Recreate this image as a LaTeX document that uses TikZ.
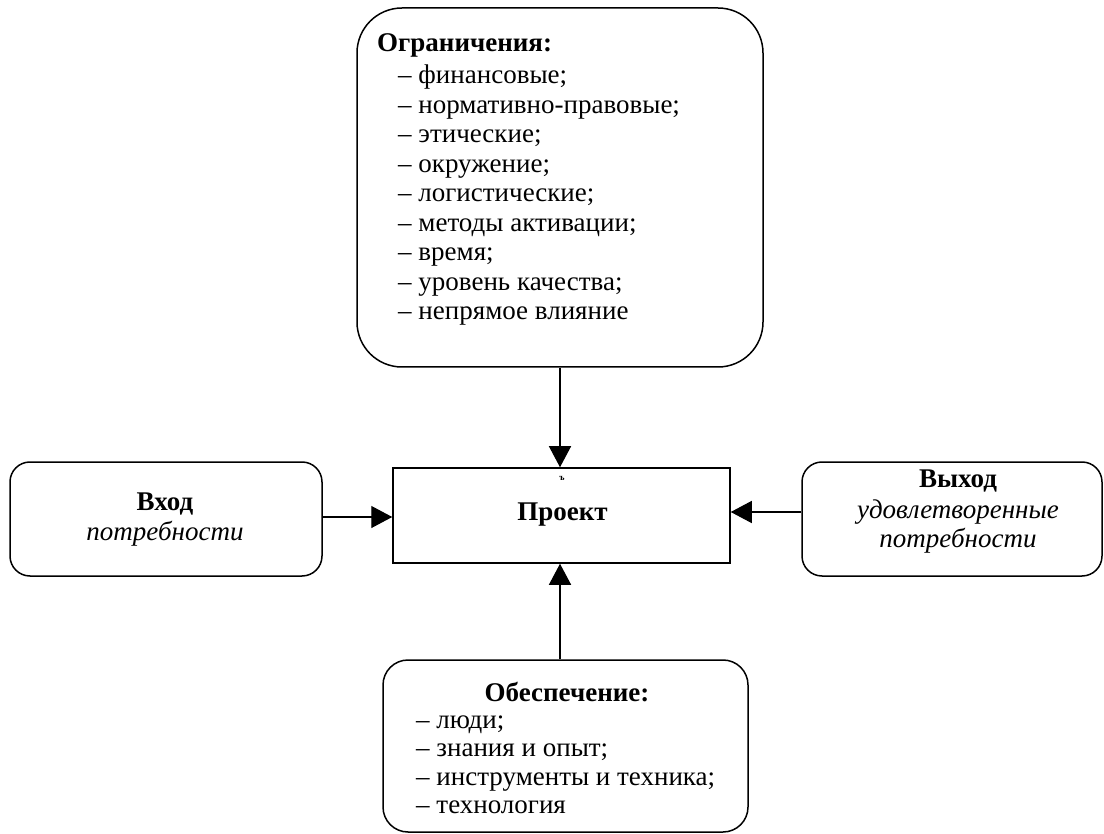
\documentclass[tikz,border=0pt]{standalone}
\usepackage{fontspec}
\setmainfont{Liberation Serif}
\usetikzlibrary{arrows.meta}
\begin{document}
\begin{tikzpicture}[x=1pt,y=-1pt,
  rbox/.style={draw, line width=1.5pt, inner sep=0pt},
  arr/.style={line width=1.3pt, -{Triangle[length=21pt,width=22pt]}},
  txt/.style={inner sep=0pt, font=\fontsize{27}{30}\selectfont},
  lft/.style={txt, anchor=base west},
  ctr/.style={txt, anchor=base}]
\useasboundingbox (0,0) rectangle (1104,834);
% boxes
\node[rbox, rounded corners=45pt, minimum width=406pt, minimum height=359pt] (lim) at (560,187.5) {};
\node[rbox, minimum width=337pt, minimum height=95pt] (proj) at (561.5,515.5) {};
\node[rbox, rounded corners=20pt, minimum width=312pt, minimum height=114pt] (inb) at (166,519) {};
\node[rbox, rounded corners=20pt, minimum width=300pt, minimum height=114pt] (outb) at (952,519) {};
\node[rbox, rounded corners=25pt, minimum width=365pt, minimum height=172pt] (res) at (565.5,746) {};
% top box text
\node[lft] (l0) at (377,52) {\textbf{Ограничения:}};
\node[lft] (l1) at (398,84) {– финансовые;};
\node[lft] (l2) at (398,113.5) {– нормативно-правовые;};
\node[lft] (l3) at (398,143) {– этические;};
\node[lft] (l4) at (398,172.5) {– окружение;};
\node[lft] (l5) at (398,202) {– логистические;};
\node[lft] (l6) at (398,231.5) {– методы активации;};
\node[lft] (l7) at (398,261) {– время;};
\node[lft] (l8) at (398,290.5) {– уровень качества;};
\node[lft] (l9) at (398,320) {– непрямое влияние};
% project
\node[ctr] (pt) at (562.5,520) {\textbf{Проект}};
\node[inner sep=0pt, anchor=base, font=\fontsize{9}{10}\selectfont\bfseries] (pm) at (562,480) {ъ};
% input
\node[ctr] (i1) at (165,511) {\textbf{Вход}};
\node[ctr] (i2) at (165,540) {\textit{потребности}};
% output
\node[ctr] (o1) at (958,487) {\textbf{Выход}};
\node[ctr] (o2) at (958,518) {\textit{удовлетворенные}};
\node[ctr] (o3) at (958,547) {\textit{потребности}};
% resources
\node[ctr] (r0) at (567,701) {\textbf{Обеспечение:}};
\node[lft] (r1) at (416,728) {– люди;};
\node[lft] (r2) at (416,756.5) {– знания и опыт;};
\node[lft] (r3) at (416,785) {– инструменты и техника;};
\node[lft] (r4) at (416,813.5) {– технология};
% connectors
\draw[arr] (lim.south) -- (lim.south |- proj.north);
\draw[arr] ([yshift=2pt]inb.east) -- ([yshift=2pt]inb.east -| proj.west);
\draw[arr] ([yshift=7pt]outb.west) -- ([yshift=7pt]outb.west -| proj.east);
\draw[arr] ([xshift=-5.5pt]res.north) -- ([xshift=-5.5pt]res.north |- proj.south);
\end{tikzpicture}
\end{document}
